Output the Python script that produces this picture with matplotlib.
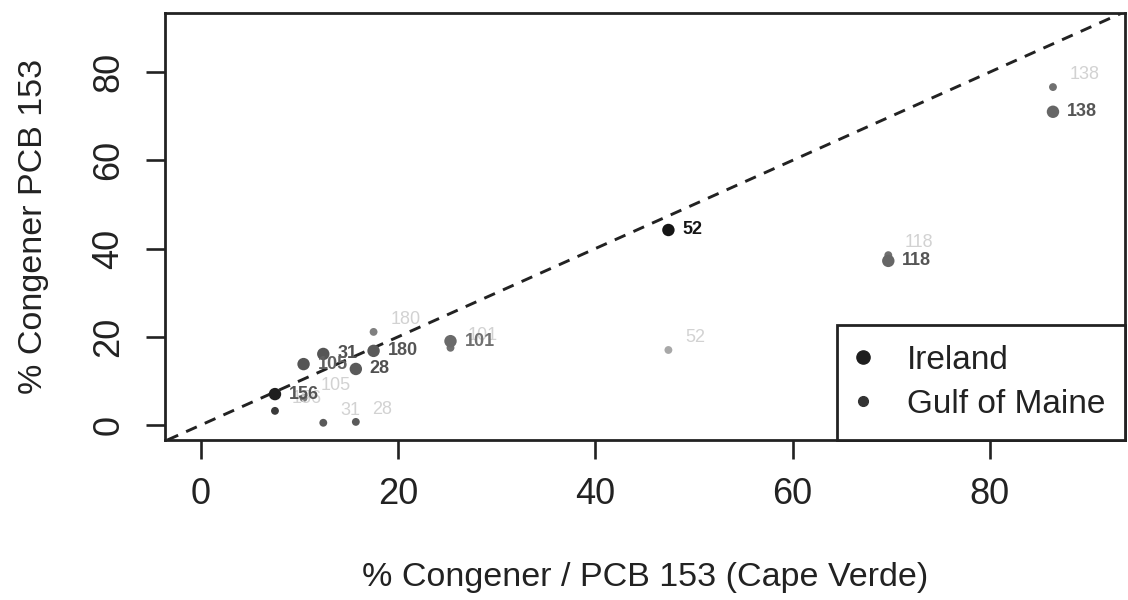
import matplotlib
matplotlib.use("Agg")
import matplotlib.pyplot as plt
from matplotlib.lines import Line2D

plt.rcParams["font.family"] = ["Liberation Sans", "DejaVu Sans"]

# ── Data: % congener / PCB 153 ────────────────────────────────────────────────
congeners   = ["28", "31", "52", "101", "105", "118", "138", "156", "180"]
cape_verde  = [15.7, 12.4, 47.4, 25.3, 10.4, 69.7, 86.4, 7.5, 17.5]
ireland     = [12.7, 16.1, 44.2, 19.0, 13.8, 37.2, 71.0, 7.0, 16.8]
gulf_maine  = [0.7, 0.5, 17.0, 17.5, 6.1, 38.5, 76.6, 3.2, 21.1]

# scanned greys, one per congener
ire_pt_col  = ["#5a5a5a", "#555555", "#151515", "#6a6a6a", "#555555", "#666666", "#666666", "#1e1e1e", "#5a5a5a"]
ire_txt_col = ["#505050", "#505050", "#151515", "#707070", "#606060", "#555555", "#555555", "#555555", "#555555"]
gom_pt_col  = ["#5a5a5a", "#5a5a5a", "#a8a8a8", "#707070", "#7a7a7a", "#707070", "#707070", "#3a3a3a", "#808080"]
gom_txt_col = "#d2d2d2"

fig = plt.figure(figsize=(11.28, 6.0), dpi=100)
ax = fig.add_axes([0.1463, 0.2667, 0.851, 0.7117])

# 1:1 line
ax.axline((0, 0), slope=1, color="#222222", lw=2.1, dashes=(4, 3), zorder=1)

ax.scatter(cape_verde, gulf_maine, s=32, c=gom_pt_col, zorder=2, linewidths=0)
ax.scatter(cape_verde, ireland, s=80, c=ire_pt_col, zorder=3, linewidths=0)

for i, lab in enumerate(congeners):
    ax.annotate(lab, (cape_verde[i], ireland[i]), xytext=(10, 0), textcoords="offset points",
                ha="left", va="center", fontsize=13, fontweight="bold", color=ire_txt_col[i], zorder=4)
    ax.annotate(lab, (cape_verde[i], gulf_maine[i]), xytext=(12, 9), textcoords="offset points",
                ha="left", va="center", fontsize=13, color=gom_txt_col, zorder=2.5)

ax.set_xlim(-3.65, 93.7)
ax.set_ylim(-3.4, 93.4)
ax.set_xticks([0, 20, 40, 60, 80])
ax.set_yticks([0, 20, 40, 60, 80])
ax.tick_params(axis="both", direction="out", length=14, width=1.9, labelsize=26, color="#222222",
               labelcolor="#222222")
ax.tick_params(axis="x", pad=13)
ax.tick_params(axis="y", pad=14)
for t in ax.get_yticklabels():
    t.set_rotation(90)
    t.set_va("center")
for s in ax.spines.values():
    s.set_linewidth(2.0)
    s.set_color("#222222")

ax.set_xlabel("% Congener / PCB 153 (Cape Verde)", fontsize=24.5, color="#222222", labelpad=36)
ax.set_ylabel("% Congener PCB 153", fontsize=24.5, color="#222222", labelpad=30)

# ── Legend ────────────────────────────────────────────────────────────────────
handles = [
    Line2D([], [], ls="none", marker="o", ms=9.5, color="#1e1e1e"),
    Line2D([], [], ls="none", marker="o", ms=7, color="#333333"),
]
leg = ax.legend(handles, ["Ireland", "Gulf of Maine"], loc="lower right", borderaxespad=0,
                fontsize=24, frameon=True, fancybox=False, handletextpad=1.1,
                borderpad=0.6, labelspacing=0.4, handlelength=0.4)
leg.get_frame().set_edgecolor("#222222")
leg.get_frame().set_linewidth(2.0)
leg.get_frame().set_alpha(1)
for t in leg.get_texts():
    t.set_color("#222222")

plt.savefig("out.png", dpi=100)
